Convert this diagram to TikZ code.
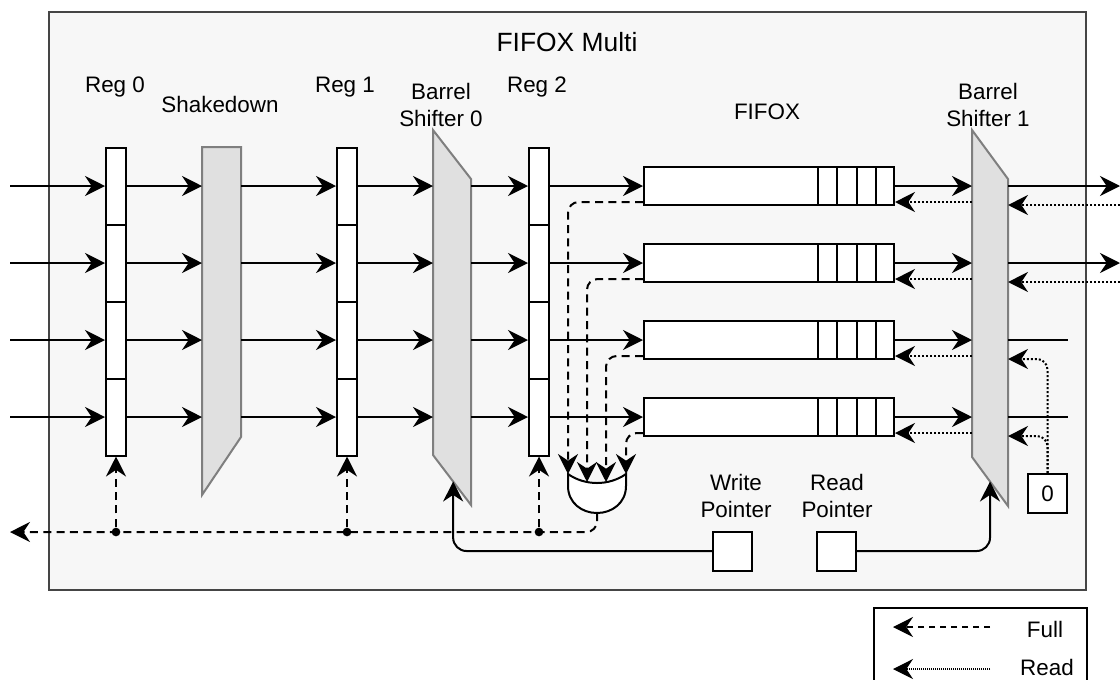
\documentclass[tikz,border=0pt]{standalone}
\usepackage{fontspec}
\setmainfont{Liberation Sans}
\usetikzlibrary{arrows.meta,calc}
\definecolor{framebg}{HTML}{F7F7F7}
\definecolor{frameln}{HTML}{454545}
\definecolor{unitbg}{HTML}{E0E0E0}
\definecolor{unitln}{HTML}{7F7F7F}
\begin{document}
\begin{tikzpicture}[x=0.75pt,y=-0.75pt,line width=1.5pt,
    >={Stealth[length=15pt,width=15pt,inset=5pt]},
    lbl/.style={font=\fontsize{16.8}{20.25}\selectfont,align=center,inner sep=0pt},
    cell/.style={draw,fill=white,minimum width=15pt,minimum height=57.75pt,inner sep=0pt},
    fifo/.style={draw,fill=white,minimum width=187.5pt,minimum height=28.5pt,inner sep=0pt},
    ptr/.style={draw,fill=white,minimum size=29.25pt,inner sep=0pt,font=\fontsize{16.8}{20.25}\selectfont},
    unit/.style={draw=unitln,fill=unitbg},
    full/.style={dash pattern=on 6pt off 4pt},
    rd/.style={dash pattern=on 1.5pt off 1.5pt},
    jn/.style={circle,fill,inner sep=0pt,minimum size=6.5pt}]
  \useasboundingbox (0,0) rectangle (1120,679);
  % outer block
  \draw[frameln,fill=framebg] (49,12) rectangle (1086,590);
  \node[lbl,anchor=base,font=\fontsize{19.8}{22}\selectfont] (title) at (567,51) {FIFOX Multi};
  % labels
  \node[lbl,anchor=base] (lreg0) at (115,92) {Reg 0};
  \node[lbl,anchor=base] (lshake) at (220,112) {Shakedown};
  \node[lbl,anchor=base] (lreg1) at (345,92) {Reg 1};
  \node[lbl] (lbs0) at (441,104.5) {Barrel\\Shifter 0};
  \node[lbl,anchor=base] (lreg2) at (537,92) {Reg 2};
  \node[lbl,anchor=base] (lfifox) at (767,119) {FIFOX};
  \node[lbl] (lbs1) at (988,104.5) {Barrel\\Shifter 1};
  \node[lbl] (lwp) at (736,496) {Write\\Pointer};
  \node[lbl] (lrp) at (837,496) {Read\\Pointer};
  % shakedown and barrel shifters
  \coordinate (sd-nw) at (202,147); \coordinate (sd-ne) at (241,147);
  \coordinate (sd-se) at (241,437); \coordinate (sd-sw) at (202,495);
  \filldraw[unit] (sd-nw) -- (sd-ne) -- (sd-se) -- (sd-sw) -- cycle;
  \coordinate (bs0-nw) at (433,130); \coordinate (bs0-ne) at (471,179);
  \coordinate (bs0-se) at (471,505); \coordinate (bs0-sw) at (433,455);
  \filldraw[unit] (bs0-nw) -- (bs0-ne) -- (bs0-se) -- (bs0-sw) -- cycle;
  \coordinate (bs1-nw) at (972,130); \coordinate (bs1-ne) at (1008,179);
  \coordinate (bs1-se) at (1008,506); \coordinate (bs1-sw) at (972,457);
  \filldraw[unit] (bs1-nw) -- (bs1-ne) -- (bs1-se) -- (bs1-sw) -- cycle;
  \coordinate (bs0-sel) at ($(bs0-sw)!0.53!(bs0-se)$);
  \coordinate (bs1-sel) at ($(bs1-sw)!0.5!(bs1-se)$);
  % registers
  \foreach \r/\x in {0/116,1/347,2/539}
    \foreach \i/\y in {1/186,2/263,3/340,4/417}
      \node[cell] (r\r-\i) at (\x,\y) {};
  % fifox queues
  \foreach \i/\y in {1/186,2/263,3/340,4/417}{
    \node[fifo] (ff\i) at (769,\y) {};
    \foreach \k in {1,...,4}
      \draw ([xshift={-\k*14.4375pt}]ff\i.north east) -- ([xshift={-\k*14.4375pt}]ff\i.south east);
  }
  % or gate
  \coordinate (or-a) at (568,474); \coordinate (or-b) at (587,482);
  \coordinate (or-c) at (606,482); \coordinate (or-d) at (626,474);
  \coordinate (or-out) at (597,513);
  \filldraw[fill=white] (or-a) -- (568,486) .. controls (568,503) and (582,513) .. (or-out)
    .. controls (612,513) and (626,503) .. (626,486) -- (or-d)
    .. controls (609,486) and (585,486) .. cycle;
  % pointers and constant
  \node[ptr] (wp) at (732.5,551) {};
  \node[ptr] (rp) at (836.5,551) {};
  \node[ptr] (zero) at (1047.5,493.5) {0};
  % data path
  \foreach \i/\y in {1/186,2/263,3/340,4/417}{
    \coordinate (in\i) at (10,\y);
    \coordinate (ffl\i) at ([yshift=-12pt]ff\i.west);
    \coordinate (ffr\i) at ([yshift=-12pt]ff\i.east);
    \coordinate (rs\i) at (1008,{\y+19});
    \draw[->] (in\i) -- (r0-\i.west);
    \draw[->] (r0-\i.east) -- (r0-\i.east -| sd-nw);
    \draw[->] (r1-\i.west -| sd-ne) -- (r1-\i.west);
    \draw[->] (r1-\i.east) -- (r1-\i.east -| bs0-nw);
    \draw[->] (r2-\i.west -| bs0-ne) -- (r2-\i.west);
    \draw[->] (r2-\i.east) -- (ff\i.west);
    \draw[->] (ff\i.east) -- (ff\i.east -| bs1-nw);
    \draw[rd,->] (ffr\i -| bs1-nw) -- (ffr\i);
  }
  \foreach \i/\y in {1/186,2/263}{
    \coordinate (out\i) at (1120,\y);
    \coordinate (rdin\i) at (1120,{\y+19});
    \draw[->] (ff\i.east -| bs1-ne) -- (out\i);
    \draw[rd,->] (rdin\i) -- (rs\i);
  }
  \foreach \i in {3,4}{
    \draw (ff\i.east -| bs1-ne) -- (ff\i.east -| zero.east);
    \draw[rd,->,rounded corners=8pt] (zero.north) |- (rs\i);
  }
  % full flags
  \foreach \i/\g in {1/or-a,2/or-b,3/or-c,4/or-d}
    \draw[full,->,rounded corners=8pt] (ffl\i) -| (\g);
  \coordinate (fullout) at (10,532);
  \draw[full,->,rounded corners=8pt] (or-out) |- (fullout);
  \foreach \r in {0,1,2}{
    \node[jn] (j\r) at (r\r-4.south |- fullout) {};
    \draw[full,->] (j\r) -- (r\r-4.south);
  }
  % pointer select lines
  \draw[->,rounded corners=10pt] (wp.west) -| (bs0-sel);
  \draw[->,rounded corners=10pt] (rp.east) -| (bs1-sel);
  % legend
  \draw[fill=white] (874,608) rectangle (1087,700);
  \node[lbl,anchor=base] (lgfull) at (1045,637) {Full};
  \node[lbl,anchor=base] (lgread) at (1047,675) {Read};
  \coordinate (lgf-a) at (990,627); \coordinate (lgf-b) at (893,627);
  \coordinate (lgr-a) at (990,669); \coordinate (lgr-b) at (893,669);
  \draw[line width=0.9pt,dash pattern=on 4.5pt off 3.75pt,->] (lgf-a) -- (lgf-b);
  \draw[line width=0.9pt,dash pattern=on 0.75pt off 0.75pt,->] (lgr-a) -- (lgr-b);
\end{tikzpicture}
\end{document}
